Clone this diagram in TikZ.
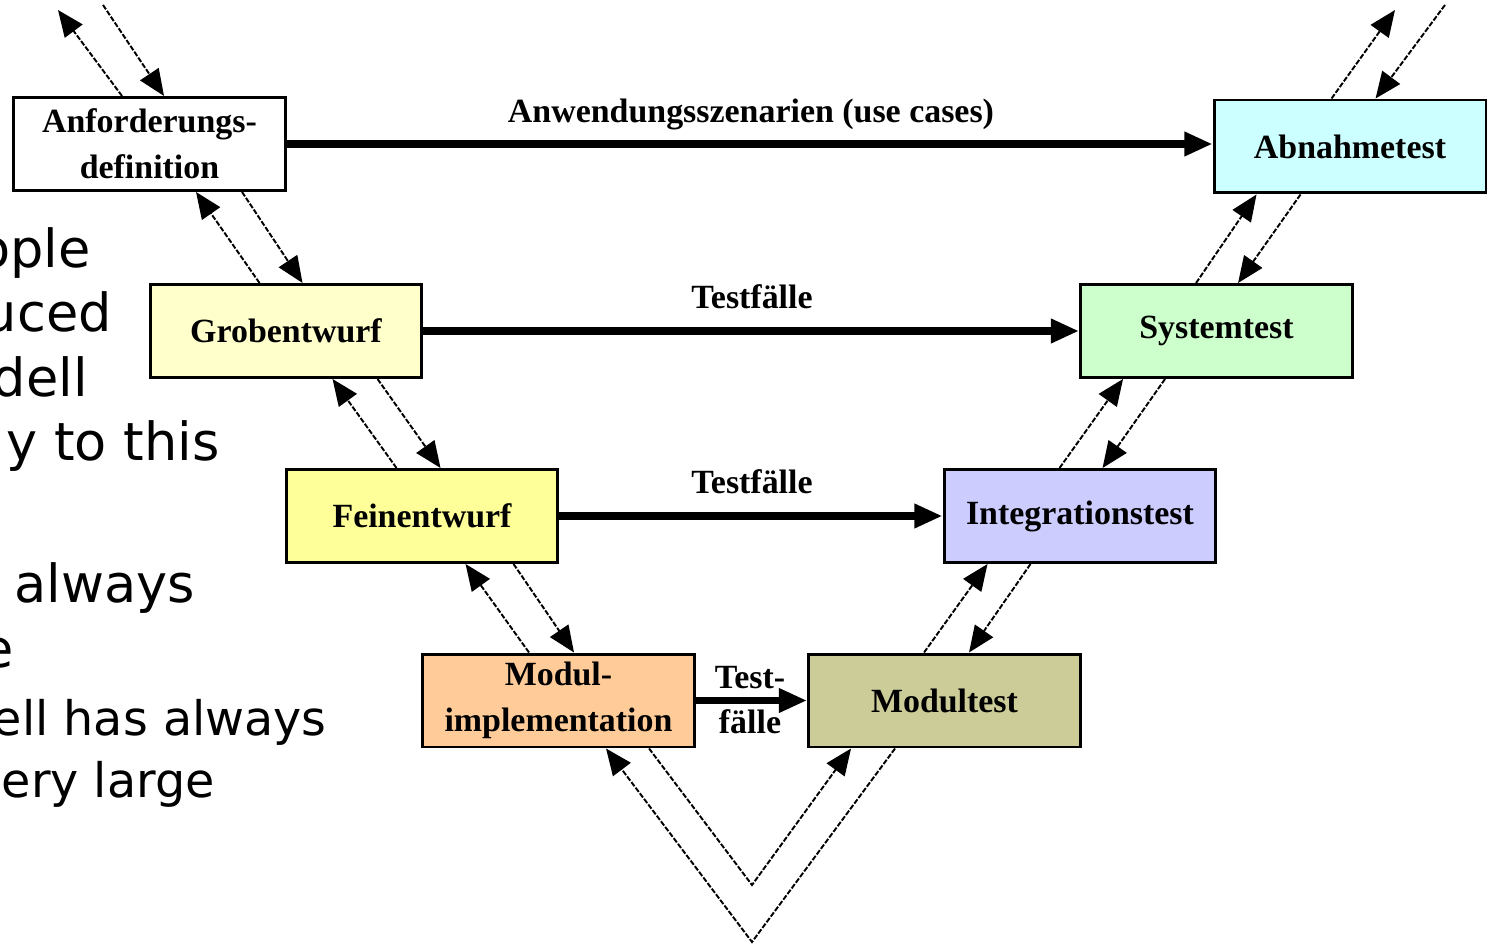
\documentclass[tikz,border=0pt]{standalone}
\usepackage{fontspec}
\setmainfont{Liberation Serif}
\newfontfamily\slidefont{DejaVu Sans}
\usetikzlibrary{arrows.meta,calc}

\definecolor{abncol}{HTML}{CCFFFF}
\definecolor{grobcol}{HTML}{FFFFCC}
\definecolor{syscol}{HTML}{CCFFCC}
\definecolor{feincol}{HTML}{FFFF99}
\definecolor{integcol}{HTML}{CCCCFF}
\definecolor{modcol}{HTML}{FFCC99}
\definecolor{mtestcol}{HTML}{CCCC99}

\newcommand{\phasefont}{\fontsize{19.3}{26}\selectfont\bfseries}

\begin{document}
\begin{tikzpicture}[x=0.02cm, y=-0.02cm,
	phase/.style={draw, line width=1.7pt, minimum width=5.44cm, minimum height=1.86cm,
		inner sep=0pt, align=center, font=\phasefont},
	lbl/.style={font=\phasefont, inner sep=0pt, align=center},
	flow/.style={line width=4.3pt, -{Triangle[length=16pt,width=13pt]}},
	back/.style={line width=1.1pt, dash pattern=on 3pt off 1pt, -{Triangle[length=15pt,width=12.5pt]}},
	slidetxt/.style={font=\slidefont\fontsize{29.9}{36}\selectfont, inner sep=0pt},
	slidesmall/.style={font=\slidefont\fontsize{27.1}{33}\selectfont, inner sep=0pt}]

		\useasboundingbox[fill=white] (0,0) rectangle (1487,945);

		%% slide text behind the diagram
		\node[slidetxt, anchor=base east] at (91,268)(t1){ople};
		\node[slidetxt, anchor=base east] at (112,332)(t2){uced};
		\node[slidetxt, anchor=base east] at (88,397)(t3){dell};
		\node[slidetxt, anchor=base east] at (220,460)(t4){y to this};
		\node[slidetxt, anchor=base east] at (195,602)(t5){always};
		\node[slidetxt, anchor=base east] at (14,667)(t6){e};
		\node[slidesmall, anchor=base east] at (327,735)(t7){ell has always};
		\node[slidesmall, anchor=base east] at (215,797)(t8){ery large};

		%% left branch
		\node[phase, fill=white] at (149.5,144)(anf){Anforderungs-\\definition};
		\node[phase, fill=grobcol] at (286,331)(grob){Grobentwurf};
		\node[phase, fill=feincol] at (422,516)(fein){Feinentwurf};
		\node[phase, fill=modcol] at (558.5,700.5)(modimp){Modul-\\implementation};

		%% right branch
		\node[phase, fill=abncol] at (1350,146.5)(abn){Abnahmetest};
		\node[phase, fill=syscol] at (1216.5,331)(sys){Systemtest};
		\node[phase, fill=integcol] at (1080,516)(integ){Integrationstest};
		\node[phase, fill=mtestcol] at (944.5,700.5)(modtest){Modultest};

		%% test flows
		\node[lbl, anchor=base] at (751,123)(uselbl){Anwendungsszenarien (use cases)};
		\node[lbl] at (752,297)(tf1){Testfälle};
		\node[lbl] at (752,482)(tf2){Testfälle};
		\node[lbl] at (750,700)(tf3){Test-\\fälle};

		\draw[flow] (anf.east)--(anf.east -| abn.west);
		\draw[flow] (grob.east)--(sys.west);
		\draw[flow] (fein.east)--(integ.west);
		\draw[flow] (modimp.east)--(modtest.west);

		%% back and forth, left
		\coordinate (tlup) at (58,10);
		\coordinate (tldown) at (103,5);
		\draw[back] ($(anf.north west)+(110,0)$)--(tlup);
		\draw[back] (tldown)--($(anf.north west)+(152,0)$);
		\draw[back] ($(grob.north west)+(111,0)$)--($(anf.south west)+(184,0)$);
		\draw[back] ($(anf.south west)+(230,0)$)--($(grob.north west)+(154,0)$);
		\draw[back] ($(fein.north west)+(112,0)$)--($(grob.south west)+(184,0)$);
		\draw[back] ($(grob.south west)+(229,0)$)--($(fein.north west)+(156,0)$);
		\draw[back] ($(modimp.north west)+(108,0)$)--($(fein.south west)+(181,0)$);
		\draw[back] ($(fein.south west)+(229,0)$)--($(modimp.north west)+(153,0)$);

		%% back and forth, right
		\coordinate (trup) at (1395,10);
		\coordinate (trdown) at (1445,5);
		\draw[back] ($(abn.north west)+(119,0)$)--(trup);
		\draw[back] (trdown)--($(abn.north west)+(163,0)$);
		\draw[back] ($(sys.north west)+(117,0)$)--($(abn.south west)+(44,0)$);
		\draw[back] ($(abn.south west)+(88,0)$)--($(sys.north west)+(159,0)$);
		\draw[back] ($(integ.north west)+(117,0)$)--($(sys.south west)+(44,0)$);
		\draw[back] ($(sys.south west)+(86,0)$)--($(integ.north west)+(160,0)$);
		\draw[back] ($(modtest.north west)+(117,0)$)--($(integ.south west)+(45,0)$);
		\draw[back] ($(integ.south west)+(88,0)$)--($(modtest.north west)+(162,0)$);

		%% bottom of the V
		\coordinate (vin) at (752,885);
		\coordinate (vout) at (752,942);
		\draw[back] ($(modimp.south west)+(228,0)$)--(vin)--($(modtest.south west)+(44,0)$);
		\draw[back] ($(modtest.south west)+(88,0)$)--(vout)--($(modimp.south west)+(185,0)$);
	\end{tikzpicture}
\end{document}
